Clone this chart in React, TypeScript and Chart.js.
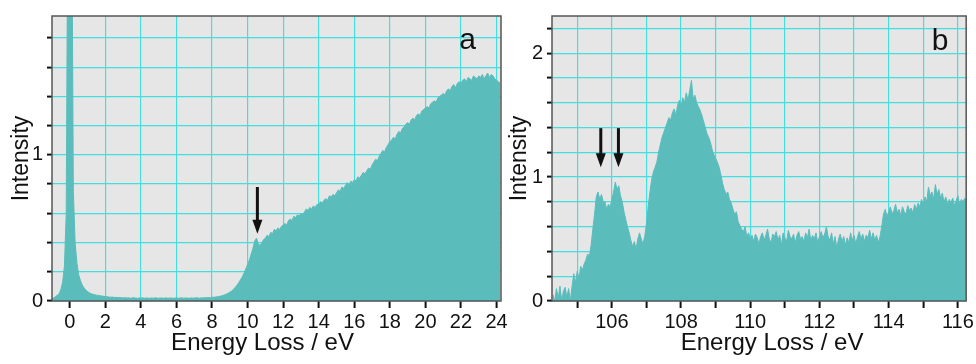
import React, { useEffect, useRef } from "react";
import { Chart, registerables } from "chart.js";

Chart.register(...registerables);

// ---------- Panel a : energy loss spectrum, 0.1 eV bins starting at -1.0 eV ----------
const A_START = -1.0;
const A_STEP = 0.1;
const A_VALUES: number[] = [
  // -1.0 .. -0.1
  0.02, 0.02, 0.03, 0.04, 0.05, 0.08, 0.13, 0.24, 0.6, 3.0,
  // 0.0 .. 0.9
  12, 3.0, 0.75, 0.4, 0.26, 0.18, 0.14, 0.11, 0.09, 0.075,
  // 1
  0.065, 0.057, 0.05, 0.046, 0.043, 0.04, 0.038, 0.036, 0.034, 0.032,
  // 2
  0.03, 0.029, 0.027, 0.026, 0.027, 0.024, 0.025, 0.023, 0.024, 0.022,
  // 3
  0.021, 0.023, 0.02, 0.022, 0.019, 0.021, 0.022, 0.02, 0.018, 0.021,
  // 4
  0.02, 0.022, 0.019, 0.021, 0.02, 0.018, 0.021, 0.019, 0.022, 0.02,
  // 5
  0.019, 0.021, 0.02, 0.018, 0.022, 0.019, 0.02, 0.021, 0.018, 0.02,
  // 6
  0.021, 0.019, 0.02, 0.022, 0.019, 0.021, 0.02, 0.018, 0.021, 0.02,
  // 7
  0.02, 0.022, 0.021, 0.019, 0.022, 0.021, 0.023, 0.022, 0.024, 0.023,
  // 8
  0.025, 0.026, 0.027, 0.029, 0.031, 0.034, 0.038, 0.042, 0.047, 0.053,
  // 9
  0.06, 0.068, 0.08, 0.092, 0.108, 0.125, 0.145, 0.165, 0.19, 0.22,
  // 10
  0.25, 0.28, 0.32, 0.36, 0.41, 0.43, 0.39, 0.38, 0.4, 0.42,
  // 11
  0.43, 0.45, 0.44, 0.47, 0.46, 0.49, 0.48, 0.5, 0.49, 0.51,
  // 12
  0.52, 0.53, 0.52, 0.55, 0.56, 0.55, 0.58, 0.57, 0.59, 0.58,
  // 13
  0.6, 0.59, 0.61, 0.63, 0.62, 0.64, 0.63, 0.65, 0.64, 0.66,
  // 14
  0.66, 0.68, 0.67, 0.69, 0.7, 0.69, 0.72, 0.71, 0.73, 0.72,
  // 15
  0.74, 0.76, 0.75, 0.78, 0.77, 0.79, 0.81, 0.79, 0.82, 0.81,
  // 16
  0.83, 0.82, 0.85, 0.84, 0.86, 0.88, 0.87, 0.89, 0.91, 0.9,
  // 17
  0.93, 0.95, 0.97, 0.96, 0.99, 1.01, 1.03, 1.02, 1.05, 1.07,
  // 18
  1.09, 1.1, 1.12, 1.11, 1.14, 1.16, 1.15, 1.18, 1.19, 1.21,
  // 19
  1.22, 1.21, 1.24, 1.25, 1.24, 1.27, 1.28, 1.27, 1.3, 1.31,
  // 20
  1.32, 1.33, 1.32, 1.35, 1.36, 1.37, 1.36, 1.39, 1.4, 1.41,
  // 21
  1.42, 1.41, 1.44, 1.45, 1.44, 1.47, 1.48, 1.46, 1.49, 1.5,
  // 22
  1.49, 1.51, 1.52, 1.5, 1.53, 1.52, 1.51, 1.54, 1.53, 1.52,
  // 23
  1.54, 1.53, 1.55, 1.52, 1.54, 1.56, 1.53, 1.55, 1.54, 1.52,
  // 24
  1.51, 1.5, 1.49,
];
const A_X_MIN = -1;
const A_X_MAX = 24.25;
const A_Y_MAX = 1.95;
const A_X_TICKS = [0, 2, 4, 6, 8, 10, 12, 14, 16, 18, 20, 22, 24];
const A_X_LABELS = [0, 2, 4, 6, 8, 10, 12, 14, 16, 18, 20, 22, 24];
const A_Y_TICKS = [0, 0.2, 0.4, 0.6, 0.8, 1, 1.2, 1.4, 1.6, 1.8];
const A_Y_LABELS = [0, 1];
const A_ARROWS = [{ x: 10.55, top: 0.78, tip: 0.46 }];

// ---------- Panel b : 0.05 eV bins starting at 104.30 eV ----------
const B_START = 104.3;
const B_STEP = 0.05;
const B_VALUES: number[] = [
  0.05, 0.0, 0.1, 0.02, 0.12, 0.0, 0.08, 0.11, 0.03, 0.1,
  0.0, 0.12, 0.22, 0.15, 0.24, 0.18, 0.28, 0.25, 0.3, 0.33,
  0.38, 0.36, 0.45, 0.58, 0.7, 0.84, 0.88, 0.82, 0.86, 0.8,
  0.8, 0.74, 0.78, 0.76, 0.82, 0.88, 0.96, 0.9, 0.93, 0.85,
  0.8, 0.72, 0.66, 0.6, 0.55, 0.49, 0.44, 0.48, 0.42, 0.5,
  0.55, 0.5, 0.46, 0.52, 0.62, 0.76, 0.88, 0.98, 1.04, 1.08,
  1.12, 1.2, 1.26, 1.32, 1.36, 1.4, 1.44, 1.48, 1.46, 1.52,
  1.55, 1.5, 1.58, 1.62, 1.57, 1.64, 1.6, 1.68, 1.62, 1.7,
  1.78, 1.63, 1.66, 1.6, 1.57, 1.54, 1.5, 1.45, 1.4, 1.35,
  1.32, 1.28, 1.22, 1.18, 1.15, 1.12, 1.08, 1.02, 0.95, 0.9,
  0.86, 0.88, 0.82, 0.79, 0.74, 0.7, 0.72, 0.64, 0.61, 0.58,
  0.56, 0.6, 0.52, 0.55, 0.5, 0.53, 0.48, 0.54, 0.51, 0.46,
  0.52, 0.55, 0.49, 0.53, 0.58, 0.5, 0.47, 0.54, 0.52, 0.56,
  0.49, 0.53, 0.45, 0.55, 0.51, 0.48, 0.57, 0.52, 0.5, 0.54,
  0.47, 0.53, 0.56, 0.5, 0.52, 0.48, 0.55, 0.51, 0.58, 0.49,
  0.53, 0.5, 0.55, 0.47, 0.52, 0.56, 0.51, 0.54, 0.6, 0.52,
  0.49, 0.55, 0.46, 0.52, 0.43, 0.5, 0.54, 0.48, 0.52, 0.45,
  0.51, 0.47, 0.55, 0.49, 0.53, 0.46, 0.52, 0.56, 0.5, 0.54,
  0.48, 0.53, 0.51, 0.57, 0.5, 0.55, 0.49, 0.53, 0.47, 0.52,
  0.6, 0.7, 0.74, 0.68, 0.72, 0.76, 0.7, 0.73, 0.78, 0.71,
  0.74, 0.69, 0.76, 0.72, 0.7, 0.77, 0.73, 0.75, 0.71, 0.78,
  0.74, 0.79, 0.76, 0.82, 0.78, 0.84, 0.8, 0.92, 0.85, 0.88,
  0.82, 0.94, 0.86, 0.9, 0.83, 0.87, 0.8, 0.84, 0.78, 0.82,
  0.79, 0.83, 0.77, 0.81, 0.85, 0.78, 0.82, 0.8, 0.83, 0.79,
];
const B_X_MIN = 104.27;
const B_X_MAX = 116.24;
const B_Y_MAX = 2.3;
const B_X_TICKS = [105, 106, 107, 108, 109, 110, 111, 112, 113, 114, 115, 116];
const B_X_LABELS = [106, 108, 110, 112, 114, 116];
const B_Y_TICKS = [0, 0.2, 0.4, 0.6, 0.8, 1, 1.2, 1.4, 1.6, 1.8, 2, 2.2];
const B_Y_LABELS = [0, 1, 2];
const B_ARROWS = [
  { x: 105.68, top: 1.395, tip: 1.08 },
  { x: 106.19, top: 1.395, tip: 1.08 },
];

const X_TITLE = "Energy Loss / eV";
const Y_TITLE = "Intensity";

// ---------- styles ----------
const FILL = "#5bbcbc";
const BG = "#e6e6e6";
const GRID = "#45dede";
const INK = "#111111";
const TICK_FONT = "'Liberation Sans Narrow', 'Liberation Sans', Arial, sans-serif";
const TITLE_FONT = "'Liberation Sans', Arial, sans-serif";

const panelPlugin = {
  id: "panel",
  beforeDraw(chart: any) {
    const { ctx, chartArea: a } = chart;
    ctx.save();
    ctx.fillStyle = BG;
    ctx.fillRect(a.left, a.top, a.right - a.left, a.bottom - a.top);
    ctx.restore();
  },
  afterDatasetsDraw(chart: any, _args: any, opts: any) {
    const { ctx, chartArea: a, scales } = chart;
    ctx.save();
    // frame
    ctx.strokeStyle = "#555";
    ctx.lineWidth = 1.5;
    ctx.strokeRect(a.left, a.top, a.right - a.left, a.bottom - a.top);
    // arrows
    ctx.fillStyle = INK;
    ctx.strokeStyle = INK;
    for (const ar of opts.arrows || []) {
      const x = scales.x.getPixelForValue(ar.x);
      const y0 = scales.y.getPixelForValue(ar.top);
      const y1 = scales.y.getPixelForValue(ar.tip);
      const head = 14;
      ctx.lineWidth = 3;
      ctx.beginPath();
      ctx.moveTo(x, y0);
      ctx.lineTo(x, y1 - head + 2);
      ctx.stroke();
      ctx.beginPath();
      ctx.moveTo(x - 5, y1 - head);
      ctx.lineTo(x + 5, y1 - head);
      ctx.lineTo(x, y1);
      ctx.closePath();
      ctx.fill();
    }
    // panel letter
    ctx.font = `30px ${TITLE_FONT}`;
    ctx.textAlign = "center";
    ctx.textBaseline = "alphabetic";
    ctx.fillStyle = INK;
    ctx.fillText(opts.label, a.right - opts.labelDx, a.top + opts.labelDy);
    ctx.restore();
  },
  afterDraw(chart: any, _args: any, opts: any) {
    const { ctx, chartArea: a } = chart;
    ctx.save();
    ctx.font = `24px ${TITLE_FONT}`;
    ctx.textAlign = "center";
    ctx.textBaseline = "alphabetic";
    ctx.fillStyle = INK;
    ctx.fillText(X_TITLE, (a.left + a.right) / 2 + opts.xTitleDx, 350);
    ctx.restore();
  },
};

function buildConfig(p: {
  start: number;
  step: number;
  values: number[];
  xMin: number;
  xMax: number;
  yMax: number;
  xTicks: number[];
  xLabels: number[];
  yTicks: number[];
  yLabels: number[];
  arrows: any[];
  label: string;
  labelDx: number;
  labelDy: number;
  xTitleDx: number;
  yWidth: number;
  padRight: number;
}): any {
  const data = p.values.map((v, i) => ({ x: p.start + i * p.step, y: v }));
  const near = (arr: number[], v: number) => arr.some((t) => Math.abs(t - v) < 1e-6);
  return {
    type: "line",
    data: {
      datasets: [
        {
          data,
          borderColor: FILL,
          backgroundColor: FILL,
          borderWidth: 1,
          pointRadius: 0,
          tension: 0,
          fill: "origin",
        },
      ],
    },
    options: {
      animation: false,
      responsive: false,
      events: [],
      layout: { padding: { top: 16, right: p.padRight, left: 0, bottom: 0 } },
      plugins: {
        legend: { display: false },
        tooltip: { enabled: false },
        panel: {
          arrows: p.arrows,
          label: p.label,
          labelDx: p.labelDx,
          labelDy: p.labelDy,
          xTitleDx: p.xTitleDx,
        },
      },
      scales: {
        x: {
          type: "linear",
          min: p.xMin,
          max: p.xMax,
          afterBuildTicks: (s: any) => {
            s.ticks = p.xTicks.map((value) => ({ value }));
          },
          afterFit: (s: any) => {
            s.height = 63;
          },
          border: { display: false },
          grid: {
            color: GRID,
            lineWidth: 1.2,
            tickColor: INK,
            tickLength: 7,
            tickWidth: 2,
          },
          ticks: {
            autoSkip: false,
            maxRotation: 0,
            padding: 2,
            color: INK,
            font: { family: TICK_FONT, size: 20 },
            callback: (v: number) => (near(p.xLabels, v) ? String(v) : ""),
          },
          title: { display: false },
        },
        y: {
          type: "linear",
          min: 0,
          max: p.yMax,
          afterBuildTicks: (s: any) => {
            s.ticks = p.yTicks.map((value) => ({ value }));
          },
          afterFit: (s: any) => {
            s.width = p.yWidth;
          },
          border: { display: false },
          grid: {
            color: GRID,
            lineWidth: 1.2,
            tickColor: INK,
            tickLength: 5,
            tickWidth: 2,
          },
          ticks: {
            autoSkip: false,
            padding: 4,
            color: INK,
            font: { family: TICK_FONT, size: 20 },
            callback: (v: number) => (near(p.yLabels, v) ? String(v) : ""),
          },
          title: {
            display: true,
            text: Y_TITLE,
            color: INK,
            font: { family: TITLE_FONT, size: 23 },
            padding: { top: 8, bottom: 0 },
          },
        },
      },
    },
    plugins: [panelPlugin],
  };
}

function Panel(props: { config: any; left: number; width: number; z: number }) {
  const ref = useRef<HTMLCanvasElement | null>(null);
  useEffect(() => {
    if (!ref.current) return;
    const chart = new Chart(ref.current, props.config);
    return () => chart.destroy();
  }, []);
  return (
    <div style={{ position: "absolute", left: props.left, top: 0, width: props.width, height: 364, zIndex: props.z }}>
      <canvas ref={ref} width={props.width} height={364} style={{ display: "block" }} />
    </div>
  );
}

export default function App() {
  const cfgA = buildConfig({
    start: A_START,
    step: A_STEP,
    values: A_VALUES,
    xMin: A_X_MIN,
    xMax: A_X_MAX,
    yMax: A_Y_MAX,
    xTicks: A_X_TICKS,
    xLabels: A_X_LABELS,
    yTicks: A_Y_TICKS,
    yLabels: A_Y_LABELS,
    arrows: A_ARROWS,
    label: "a",
    labelDx: 33.5,
    labelDy: 32.5,
    xTitleDx: -14,
    yWidth: 52,
    padRight: 29,
  });
  const cfgB = buildConfig({
    start: B_START,
    step: B_STEP,
    values: B_VALUES,
    xMin: B_X_MIN,
    xMax: B_X_MAX,
    yMax: B_Y_MAX,
    xTicks: B_X_TICKS,
    xLabels: B_X_LABELS,
    yTicks: B_Y_TICKS,
    yLabels: B_Y_LABELS,
    arrows: B_ARROWS,
    label: "b",
    labelDx: 26,
    labelDy: 34,
    xTitleDx: 13,
    yWidth: 54,
    padRight: 9,
  });
  return (
    <div style={{ position: "fixed", left: 0, top: 0, width: 976, height: 364, background: "#ffffff", overflow: "hidden" }}>
      <Panel config={cfgA} left={0} width={530} z={1} />
      <Panel config={cfgB} left={498} width={478} z={2} />
    </div>
  );
}
